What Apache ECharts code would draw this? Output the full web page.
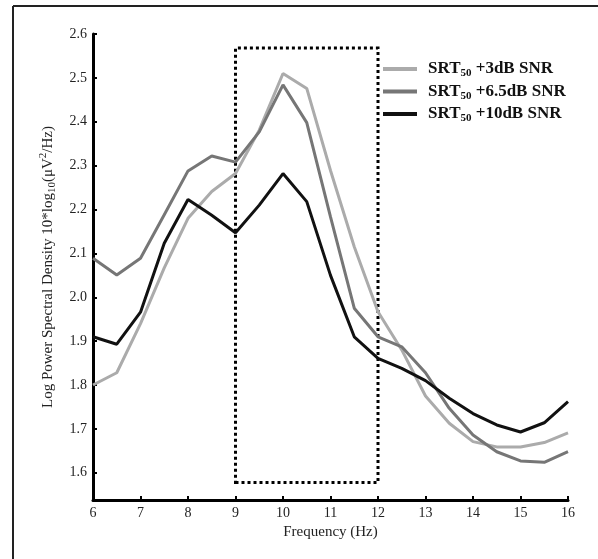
<!DOCTYPE html>
<html>
<head>
<meta charset="utf-8">
<script src="https://cdn.jsdelivr.net/npm/echarts@6/dist/echarts.min.js"></script>
<style>
html,body{margin:0;padding:0;background:#fff;}
#chart{width:598px;height:559px;}
</style>
</head>
<body>
<div id="chart"></div>
<script>
const freqs = [6, 6.5, 7, 7.5, 8, 8.5, 9, 9.5, 10, 10.5, 11, 11.5, 12, 12.5, 13, 13.5, 14, 14.5, 15, 15.5, 16];
const snr3 = [1.800, 1.828, 1.940, 2.067, 2.180, 2.241, 2.282, 2.381, 2.510, 2.476, 2.289, 2.115, 1.967, 1.880, 1.775, 1.713, 1.671, 1.659, 1.659, 1.669, 1.691];
const snr65 = [2.089, 2.051, 2.089, 2.188, 2.288, 2.322, 2.308, 2.377, 2.484, 2.398, 2.183, 1.975, 1.910, 1.887, 1.828, 1.747, 1.686, 1.648, 1.627, 1.624, 1.648];
const snr10 = [1.910, 1.893, 1.966, 2.123, 2.223, 2.187, 2.147, 2.210, 2.282, 2.218, 2.050, 1.910, 1.861, 1.838, 1.810, 1.770, 1.735, 1.709, 1.693, 1.714, 1.762];
const seriesNames = ['SRT50 +3dB SNR', 'SRT50 +6.5dB SNR', 'SRT50 +10dB SNR'];
const xTicks = [6, 7, 8, 9, 10, 11, 12, 13, 14, 15, 16];
const yTicks = [1.6, 1.7, 1.8, 1.9, 2.0, 2.1, 2.2, 2.3, 2.4, 2.5, 2.6];
const boxRange = {x0: 9, x1: 12, y0: 1.578, y1: 2.568};

const serif = '"Liberation Serif", "Times New Roman", serif';
const colors = ['#ababab', '#767676', '#111111'];
const pairs = arr => freqs.map((f, i) => [f, arr[i]]);

const chart = echarts.init(document.getElementById('chart'));
const mkSeries = (name, data, color, extra) => Object.assign({
  name: name, type: 'line', data: pairs(data), symbol: 'none',
  lineStyle: {color: color, width: 3}, itemStyle: {color: color},
  emphasis: {disabled: true}, animation: false
}, extra || {});

chart.setOption({
  animation: false,
  backgroundColor: '#fff',
  grid: {left: 93, right: 30, top: 34, bottom: 59},
  graphic: [
    {type: 'line', shape: {x1: 13, y1: 6, x2: 598, y2: 6}, style: {stroke: '#222', lineWidth: 2}},
    {type: 'line', shape: {x1: 13, y1: 6, x2: 13, y2: 559}, style: {stroke: '#222', lineWidth: 2}}
  ],
  legend: {
    left: 383, top: 59, orient: 'vertical', itemWidth: 34, itemHeight: 4, itemGap: 2.5,
    icon: 'rect', padding: 0,
    data: seriesNames.map((n, i) => ({name: n, itemStyle: {color: colors[i]}})),
    itemStyle: {borderWidth: 0},
    formatter: function (n) { return n.replace('SRT50', 'SRT{sub|50}'); },
    textStyle: {
      fontFamily: serif, fontSize: 17, fontWeight: 'bold', color: '#111', lineHeight: 20,
      padding: [0, 0, 0, 6],
      rich: {sub: {fontFamily: serif, fontSize: 11, fontWeight: 'bold', color: '#111', verticalAlign: 'bottom', lineHeight: 11}}
    }
  },
  xAxis: {
    type: 'value', min: 6, max: 16, interval: 1,
    name: 'Frequency (Hz)', nameLocation: 'middle', nameGap: 21,
    nameTextStyle: {fontFamily: serif, fontSize: 15, color: '#222'},
    axisLine: {show: true, lineStyle: {color: '#000', width: 3}},
    axisTick: {show: true, inside: true, length: 4, lineStyle: {color: '#000', width: 2}, customValues: xTicks},
    axisLabel: {fontFamily: serif, fontSize: 14, color: '#222', margin: 6, customValues: xTicks},
    splitLine: {show: false}
  },
  yAxis: {
    type: 'value', min: 1.538, max: 2.6,
    name: 'Log Power Spectral Density 10*log{sub|10}(μV{sup|2}/Hz)', nameLocation: 'middle', nameGap: 35,
    nameRotate: 90,
    nameTextStyle: {
      fontFamily: serif, fontSize: 15, color: '#222', lineHeight: 20,
      rich: {
        sub: {fontFamily: serif, fontSize: 11, color: '#222', verticalAlign: 'bottom', lineHeight: 11},
        sup: {fontFamily: serif, fontSize: 11, color: '#222', verticalAlign: 'top', lineHeight: 11}
      }
    },
    axisLine: {show: true, lineStyle: {color: '#000', width: 3}},
    axisTick: {show: true, inside: true, length: 4, lineStyle: {color: '#000', width: 2}, customValues: yTicks},
    axisLabel: {fontFamily: serif, fontSize: 14, color: '#222', margin: 6, customValues: yTicks,
      formatter: v => v.toFixed(1)},
    splitLine: {show: false}
  },
  series: [
    mkSeries(seriesNames[0], snr3, colors[0]),
    mkSeries(seriesNames[1], snr65, colors[1]),
    mkSeries(seriesNames[2], snr10, colors[2], {
      markArea: {
        silent: true,
        itemStyle: {color: 'rgba(0,0,0,0)', borderColor: '#000', borderWidth: 3, borderType: [3, 3]},
        data: [[{coord: [boxRange.x0, boxRange.y0]}, {coord: [boxRange.x1, boxRange.y1]}]]
      }
    })
  ]
});
</script>
</body>
</html>
